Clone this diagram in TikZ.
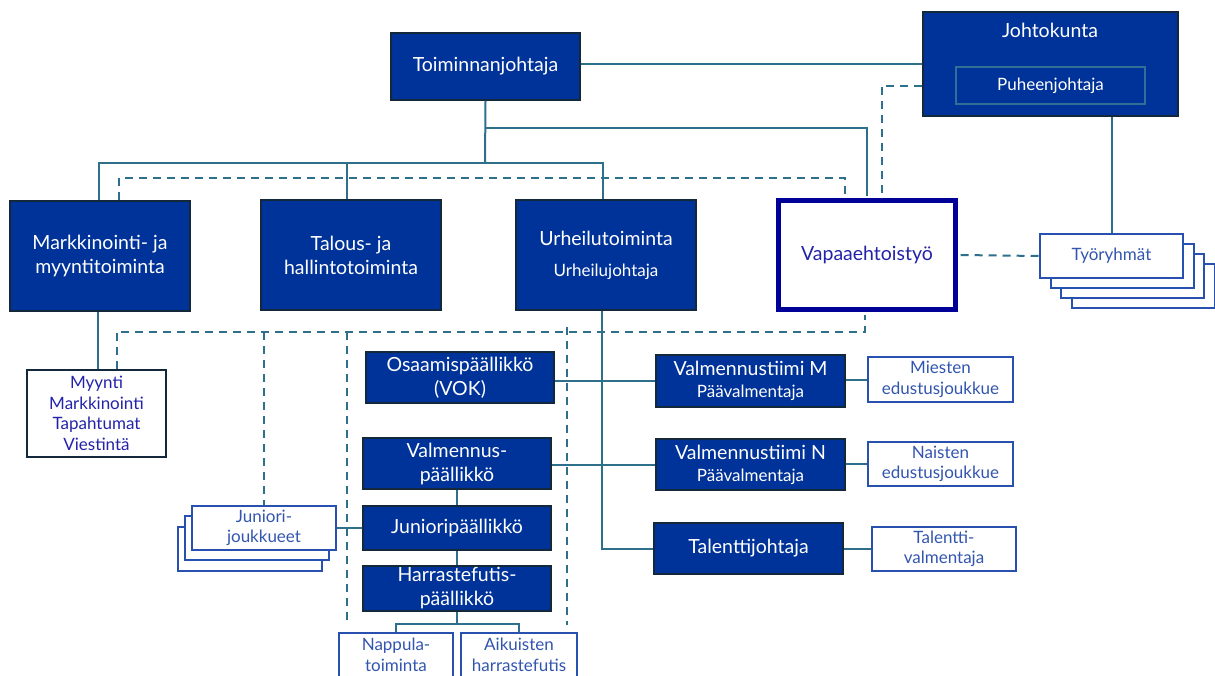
\documentclass[tikz,border=0pt]{standalone}
\usepackage{fontspec}
\setmainfont{Lato}
\usetikzlibrary{calc}
\definecolor{dblue}{RGB}{0,51,153}
\definecolor{bordk}{RGB}{20,40,60}
\definecolor{lncol}{RGB}{46,112,140}
\definecolor{navy}{RGB}{0,0,153}
\definecolor{txtnavy}{RGB}{35,35,170}
\definecolor{wbord}{RGB}{40,80,175}
\definecolor{wtxt}{RGB}{50,85,175}
\definecolor{puhbord}{RGB}{50,110,150}
\newcommand{\smalltxt}{\fontsize{17}{20.5}\selectfont}
\begin{document}
\begin{tikzpicture}[x=1pt,y=-1pt,
  bigf/.style={font=\fontsize{19.5}{24}\selectfont},
  smallf/.style={font=\fontsize{17}{20.5}\selectfont},
  bbox/.style={draw=bordk, line width=1.8pt, fill=dblue, text=white, align=center, inner sep=0pt, bigf},
  wbox/.style={draw=wbord, line width=1.8pt, fill=white, text=wtxt, align=center, inner sep=0pt, smallf},
  conn/.style={draw=lncol, line width=2pt},
  dconn/.style={draw=lncol, line width=2pt, dash pattern=on 8pt off 6pt},
]
\useasboundingbox (0,0) rectangle (1215,675);
\clip (0,0) rectangle (1215,675);
\fill[white] (0,0) rectangle (1215,675);

% coordinates
\coordinate (bar) at (485,163);
\coordinate (br) at (485,128);
\coordinate (dl) at (0,332);
\coordinate (e1) at (347,625);
\coordinate (e2) at (567,625);

% top boxes
\node[bbox, minimum width=189, minimum height=67] (toim) at (485.5,66.5) {Toiminnanjohtaja};
\node[bbox, minimum width=255, minimum height=104] (johto) at (1050.5,64) {};
\node[bigf, text=white, anchor=center] (johtot) at (1050,30) {Johtokunta};
\node[draw=puhbord, line width=1.2pt, text=white, inner sep=0pt, smallf, minimum width=189, minimum height=37] (puh) at (1050.5,85.5) {Puheenjohtaja};

% second row
\node[bbox, minimum width=180, minimum height=110] (mark) at (100,256) {Markkinointi- ja\\myyntitoiminta};
\node[bbox, minimum width=180, minimum height=110] (tal) at (351,255) {Talous- ja\\hallintotoiminta};
\node[bbox, minimum width=180, minimum height=110] (urh) at (606,255) {Urheilutoiminta\\[7pt]{\smalltxt Urheilujohtaja}};
\node[draw=navy, line width=5pt, fill=white, text=txtnavy, inner sep=0pt, bigf, minimum width=177, minimum height=109] (vap) at (867,255) {Vapaaehtoistyö};

% Tyoryhmat stack
\node[wbox, minimum width=143, minimum height=44] (tyo3) at (1143.5,286) {};
\node[wbox, minimum width=143, minimum height=44] (tyo2) at (1132.5,276) {};
\node[wbox, minimum width=143, minimum height=44] (tyo1) at (1122.5,266) {};
\node[wbox, minimum width=143, minimum height=44] (tyo) at (1111.5,256) {Työryhmät};

% left column
\node[wbox, draw=bordk, text=txtnavy, minimum width=139, minimum height=87] (myy) at (96.5,413.5) {Myynti\\Markkinointi\\Tapahtumat\\Viestintä};

% middle column
\node[bbox, minimum width=188, minimum height=51] (osa) at (460,377.5) {Osaamispäällikkö\\(VOK)};
\node[bbox, minimum width=188, minimum height=51] (valp) at (457,463.5) {Valmennus-\\päällikkö};
\node[bbox, minimum width=188, minimum height=44] (jun) at (457,528) {Junioripäällikkö};
\node[bbox, minimum width=188, minimum height=45] (har) at (457,588.5) {Harrastefutis-\\päällikkö};

% right column
\node[bbox, minimum width=189, minimum height=52] (vtm) at (750.5,381) {Valmennustiimi M\\[-2pt]{\smalltxt Päävalmentaja}};
\node[bbox, minimum width=189, minimum height=51] (vtn) at (750.5,464.5) {Valmennustiimi N\\[-2pt]{\smalltxt Päävalmentaja}};
\node[bbox, minimum width=189, minimum height=51] (tjo) at (748.5,548.5) {Talenttijohtaja};
\node[wbox, minimum width=145, minimum height=45] (mie) at (940.5,379.5) {Miesten\\edustusjoukkue};
\node[wbox, minimum width=145, minimum height=44] (nai) at (940.5,464) {Naisten\\edustusjoukkue};
\node[wbox, minimum width=144, minimum height=44] (tav) at (944,549) {Talentti-\\valmentaja};

% Juniori-joukkueet stack
\node[wbox, minimum width=144, minimum height=44] (jj3) at (250,549) {};
\node[wbox, minimum width=144, minimum height=44] (jj2) at (257,538) {};
\node[wbox, minimum width=144, minimum height=44] (jj) at (264,528) {Juniori-\\joukkueet};

% bottom
\node[wbox, minimum width=114, minimum height=48] (nap) at (396,657) {};
\node[wbox, minimum width=116, minimum height=48] (aik) at (519,657) {};
\node[smallf, text=wtxt, align=center] (napt) at (396,655) {Nappula-\\toiminta};
\node[smallf, text=wtxt, align=center] (aikt) at (519,655) {Aikuisten\\harrastefutis};

% connectors
\draw[conn] (toim.east |- johto.west) -- (johto.west);
\draw[dconn] (johto.west |- puh.center) -| ($(vap.north)+(15,-2.5)$);
\draw[conn] (toim.south) -- (bar);
\draw[conn] ($(mark.north)+(-1,0)$) -- ($(mark.north |- bar)+(-1,0)$) -- ($(urh.north |- bar)+(-3,0)$) -- ($(urh.north)+(-3,0)$);
\draw[conn] ($(tal.north)+(-4,0)$) -- ($(tal.north |- bar)+(-4,0)$);
\draw[conn] (br) -| ($(vap.north)+(0,-2.5)$);
\draw[dconn] ($(mark.north)+(19,0)$) -- ++(0,-22) -| ($(vap.north)+(-22,-2.5)$);
\draw[dconn] ($(vap.east)+(2.5,0)$) -- (tyo.west);
\draw[conn] (johto.south -| tyo.north) -- (tyo.north);
\draw[conn] ($(mark.south)+(-2,0)$) -- ($(mark.south |- myy.north)+(-2,0)$);
\draw[dconn] ($(myy.north)+(20,0)$) |- ($(vap.south)+(-2,20)$) -- ($(vap.south)+(-2,2.5)$);
\draw[dconn] (jj.north |- dl) -- (jj.north);
\draw[dconn] (e1 |- dl) -- (e1);
\draw[dconn] ($(e2 |- dl)+(0,-5)$) -- (e2);
\draw[conn] ($(urh.south)+(-4,0)$) |- (tjo.west);
\draw[conn] (osa.east |- vtm.west) -- (vtm.west);
\draw[conn] (valp.east |- vtn.west) -- (vtn.west);
\draw[conn] (vtm.east |- mie.west) -- (mie.west);
\draw[conn] (vtn.east |- nai.west) -- (nai.west);
\draw[conn] (tjo.east |- tav.west) -- (tav.west);
\draw[conn] (valp.south) -- (jun.north);
\draw[conn] (jun.south) -- (har.north);
\draw[conn] (jun.west) -- (jj.east);
\draw[conn] (har.south) -- ++(0,12) coordinate (hb);
\draw[conn] (nap.north) -- (nap.north |- hb) -- (aik.north |- hb) -- (aik.north);
\end{tikzpicture}
\end{document}
